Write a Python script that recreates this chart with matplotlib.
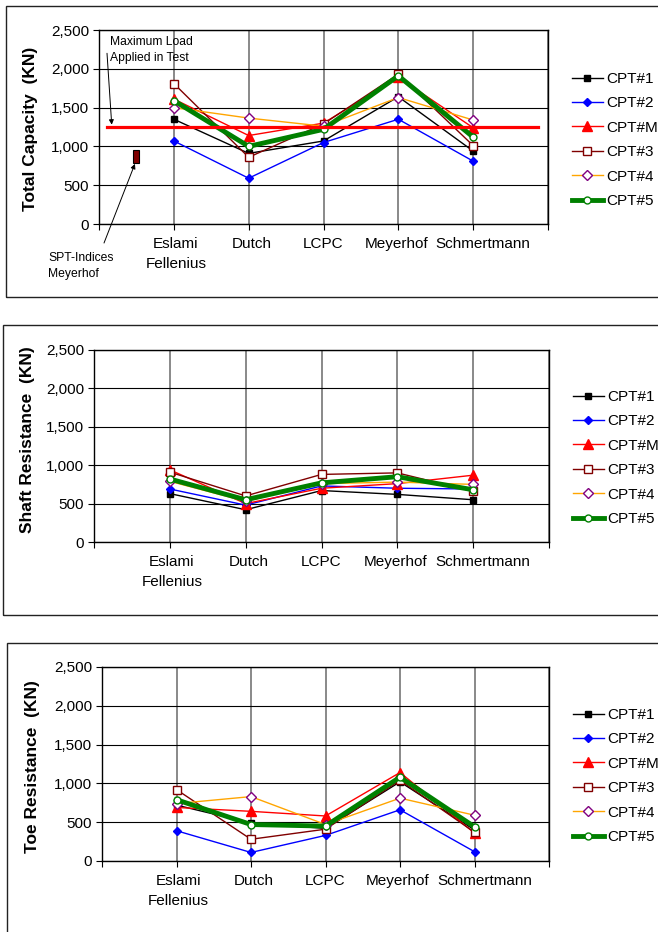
import numpy as np
import matplotlib
matplotlib.use('Agg')
import matplotlib.pyplot as plt
import matplotlib.transforms as mtransforms
from matplotlib.patches import Rectangle

plt.rcParams['font.family'] = ['Liberation Sans', 'DejaVu Sans']

# x positions 1..5 are the CPT methods; 0 and 6 are empty slots
methods = ['Eslami\nFellenius', 'Dutch', 'LCPC', 'Meyerhof', 'Schmertmann']
series = ['CPT#1', 'CPT#2', 'CPT#M', 'CPT#3', 'CPT#4', 'CPT#5']

total_capacity = [
    [1350, 910, 1070, 1640, 940],
    [1070, 590, 1050, 1350, 810],
    [1610, 1140, 1300, 1890, 1240],
    [1810, 860, 1290, 1930, 1010],
    [1500, 1365, 1260, 1630, 1340],
    [1590, 1000, 1220, 1910, 1120],
]
shaft_resistance = [
    [630, 420, 670, 620, 550],
    [690, 480, 730, 700, 690],
    [940, 500, 700, 760, 870],
    [910, 600, 880, 900, 660],
    [790, 530, 760, 780, 750],
    [820, 550, 770, 850, 680],
]
toe_resistance = [
    [720, 490, 420, 1020, 400],
    [390, 110, 330, 660, 120],
    [690, 640, 580, 1140, 360],
    [920, 280, 410, 1040, 370],
    [740, 830, 470, 810, 590],
    [790, 470, 450, 1080, 440],
]
max_test_load = 1250
spt_range = (790, 950)   # SPT-indices Meyerhof, low/high

styles = [
    dict(color='black', lw=1, marker='s', ms=5, mfc='black', mec='black'),
    dict(color='#0000FF', lw=1, marker='D', ms=4.5, mfc='#0000FF', mec='#0000FF'),
    dict(color='#FF0000', lw=1, marker='^', ms=6.5, mfc='#FF0000', mec='#FF0000'),
    dict(color='#800000', lw=1, marker='s', ms=5.5, mfc='white', mec='#800000', mew=1),
    dict(color='#FFA500', lw=1, marker='D', ms=5, mfc='white', mec='#800080', mew=1),
    dict(color='#008000', lw=3.5, marker='o', ms=5, mfc='white', mec='#008000', mew=1),
]

W, H = 658, 932
fig = plt.figure(figsize=(W / 100, H / 100), dpi=100)

# panel frames (left, top, bottom) in pixels; right side runs off the page
frames = [(6, 6, 297), (3, 325, 615), (7, 643, 940)]
for x0, y0, y1 in frames:
    fig.patches.append(Rectangle((x0 / W, 1 - y1 / H), 1.0, (y1 - y0) / H,
                                 transform=fig.transFigure, fill=False,
                                 edgecolor='#222222', lw=1.0))

# axes boxes (left, right, top, bottom) in pixels
boxes = [(99, 548, 30, 224), (94, 549, 350, 542), (102, 549, 667, 861)]
ylabels = ['Total Capacity  (KN)', 'Shaft Resistance  (KN)', 'Toe Resistance  (KN)']
ylabel_pos = [(31, 129), (28, 440), (33, 767)]
legend_pos = [(572, 140), (573, 458), (573, 776)]
datasets = [total_capacity, shaft_resistance, toe_resistance]

x = np.arange(1, len(methods) + 1)
# horizontal nudge (px) per category label, last one pushed clear of "Meyerhof"
label_shift = [2, 3, 0, -2, 10]

for i, (data, box) in enumerate(zip(datasets, boxes)):
    l, r, t, b = box
    ax = fig.add_axes([l / W, 1 - b / H, (r - l) / W, (b - t) / H])
    ax.set_xlim(0, 6)
    ax.set_ylim(0, 2500)

    for vals, name, st in zip(data, series, styles):
        ax.plot(x, vals, label=name, zorder=3, **st)

    ax.set_xticks(np.arange(0, 7))
    ax.set_xticklabels([])
    base = ax.get_xaxis_transform()
    for xi, name, dx in zip(x, methods, label_shift):
        tr = mtransforms.offset_copy(base, fig=fig, x=dx, y=-13, units='dots')
        ax.text(xi, 0, name, transform=tr, fontsize=11, ha='center', va='top',
                linespacing=1.55)

    yt = np.arange(0, 2501, 500)
    ax.set_yticks(yt)
    ax.set_yticklabels([f'{v:,}' for v in yt], fontsize=11)
    ax.tick_params(axis='both', direction='out', length=4, width=0.8, pad=3)
    ax.yaxis.grid(True, color='black', lw=0.8)
    ax.xaxis.grid(True, color='#808080', lw=1.3)
    ax.set_axisbelow(True)
    for s in ax.spines.values():
        s.set_color('black')
        s.set_linewidth(1.0)

    lx, ly = ylabel_pos[i]
    fig.text(lx / W, 1 - ly / H, ylabels[i], rotation=90, fontsize=12.5,
             fontweight='bold', ha='center', va='center')

    gx, gy = legend_pos[i]
    ax.legend(loc='center left', bbox_to_anchor=(gx / W, 1 - gy / H),
              bbox_transform=fig.transFigure, frameon=False, fontsize=11,
              handlelength=2.0, handletextpad=0.25, labelspacing=0.68,
              borderpad=0, borderaxespad=0)

    if i == 0:
        ax.plot([0.11, 5.86], [max_test_load, max_test_load], color='#FF0000',
                lw=2.3, zorder=4)
        ax.bar(0.5, spt_range[1] - spt_range[0], bottom=spt_range[0], width=0.08,
               color='#800000', edgecolor='black', lw=0.8, zorder=3)
        ax.text(0.147, 2242, 'Maximum Load\nApplied in Test', fontsize=8.7,
                ha='left', va='center', linespacing=1.35, clip_on=False)
        ax.annotate('', xy=(0.17, 1280), xytext=(0.107, 2200),
                    arrowprops=dict(arrowstyle='-|>', color='black', lw=0.7,
                                    mutation_scale=7, shrinkA=0, shrinkB=0),
                    annotation_clip=False)
        ax.text(-0.68, -541, 'SPT-Indices\nMeyerhof', fontsize=8.7,
                ha='left', va='center', linespacing=1.35, clip_on=False)
        ax.annotate('', xy=(0.48, 775), xytext=(0.067, -245),
                    arrowprops=dict(arrowstyle='-|>', color='black', lw=0.7,
                                    mutation_scale=7, shrinkA=0, shrinkB=0),
                    annotation_clip=False)

fig.savefig('out.png', dpi=100)
